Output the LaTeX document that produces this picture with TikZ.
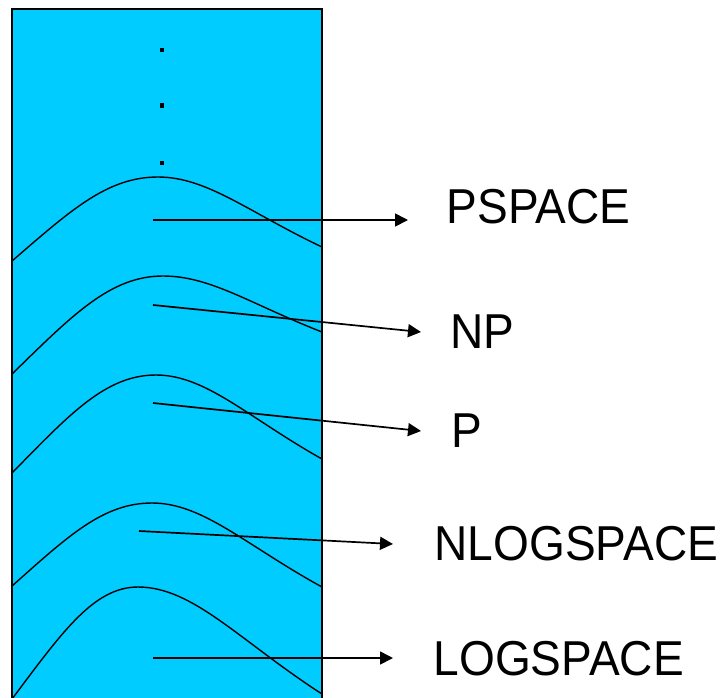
\documentclass[tikz,border=0pt]{standalone}
\usepackage{fontspec}
\newfontfamily\labfont[FakeStretch=0.94]{Liberation Sans}
\usetikzlibrary{arrows.meta}
\definecolor{boxcyan}{RGB}{0,204,255}
\newcommand\classbump[4]{%
  \draw[curve] (12,#1)
    .. controls ({12+0.4*(#2-12)},{#1-0.6*(#1-#3)}) and ({#2-0.35*(#2-12)},#3) .. (#2,#3)
    .. controls ({#2+0.3*(322-#2)},#3) and ({#2+0.55*(322-#2)},{#3+0.5*(#4-#3)}) .. (322,#4);}
\begin{document}
\begin{tikzpicture}[x=1pt,y=-1pt,
  curve/.style={line width=1.4pt},
  pointer/.style={line width=1.7pt,-{Triangle[length=13pt,width=13pt]}},
  lab/.style={anchor=base west,inner sep=0pt,font=\labfont\fontsize{49}{49}\selectfont},
  dotmark/.style={fill=black,minimum size=4.5pt,inner sep=0pt}]
\useasboundingbox (0,0) rectangle (727,697);
\path[fill=boxcyan] (12,8.5) rectangle (322,712);
\begin{scope}
  \clip (12,8.5) rectangle (322,697);
  \classbump{261}{158}{177}{247}
  \classbump{374}{163}{276}{332}
  \classbump{473}{156}{375}{459}
  \classbump{586}{152}{503}{587}
  \classbump{699}{138}{587}{694}
\end{scope}
\draw[line width=2pt] (12,712) -- (12,8.5) -- (322,8.5) -- (322,712);
\node[dotmark] (d1) at (162,50) {};
\node[dotmark] (d2) at (162,105.5) {};
\node[dotmark] (d3) at (162,163) {};
% labels
\node[lab] (pspace) at (446.5,223) {PSPACE};
\node[lab] (np) at (450.5,348) {NP};
\node[lab] (p) at (451.5,447) {P};
\node[lab] (nlog) at (434.5,560) {NLOGSPACE};
\node[lab] (log) at (433.5,675) {LOGSPACE};
% pointer coordinates
\coordinate (s1) at (153,220); \coordinate (e1) at (408,220);
\coordinate (s2) at (153,305); \coordinate (e2) at (421,332);
\coordinate (s3) at (153,403); \coordinate (e3) at (421,431);
\coordinate (s4) at (139,531); \coordinate (e4) at (393,544);
\coordinate (s5) at (153,658); \coordinate (e5) at (393,658);
\draw[pointer] (s1) -- (e1);
\draw[pointer] (s2) -- (e2);
\draw[pointer] (s3) -- (e3);
\draw[pointer] (s4) -- (e4);
\draw[pointer] (s5) -- (e5);
\end{tikzpicture}
\end{document}
